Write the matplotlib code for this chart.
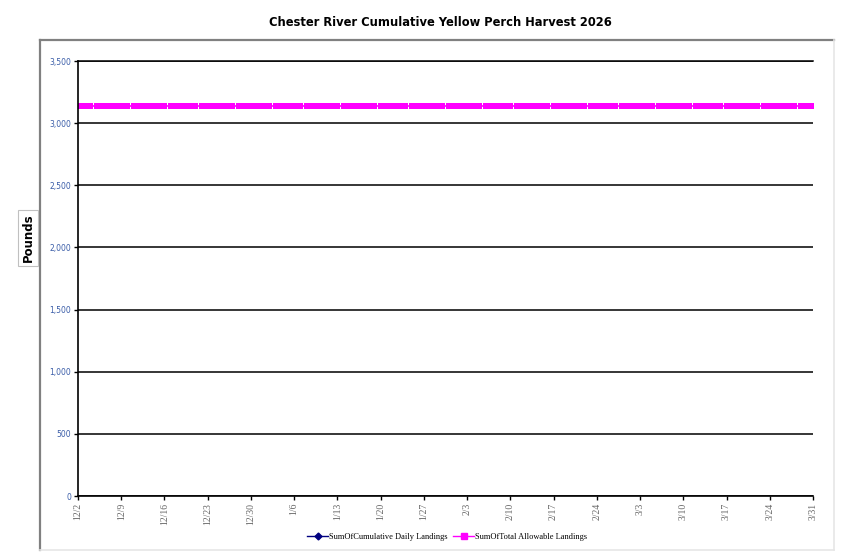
import matplotlib
matplotlib.use("Agg")
import matplotlib.pyplot as plt
from matplotlib.lines import Line2D
import pandas as pd

# ---- data ----
start_date = "2025-12-02"
end_date = "2026-03-31"
dates = pd.date_range(start_date, end_date, freq="D")
total_allowable_value = 3140
total_allowable = [total_allowable_value] * len(dates)
cumulative_dates = []
cumulative_landings = []
tick_dates = pd.date_range(start_date, end_date, freq="7D")
tick_labels = [f"{d.month}/{d.day}" for d in tick_dates]
y_ticks = [0, 500, 1000, 1500, 2000, 2500, 3000, 3500]
y_labels = ["0", "500", "1,000", "1,500", "2,000", "2,500", "3,000", "3,500"]

W, H = 845, 557
fig = plt.figure(figsize=(W / 100, H / 100), dpi=100)
fig.patch.set_facecolor("white")

# outer frame (chart area border)
x0, y0, x1, y1 = 40, 40, 834, 550
fig.add_artist(Line2D([x0 / W, x1 / W], [1 - y0 / H, 1 - y0 / H], color="#808080", lw=1.6, transform=fig.transFigure))
fig.add_artist(Line2D([x0 / W, x0 / W], [1 - y0 / H, 1 - y1 / H], color="#808080", lw=1.6, transform=fig.transFigure))
fig.add_artist(Line2D([x1 / W, x1 / W], [1 - y0 / H, 1 - y1 / H], color="#e6e6e6", lw=1.2, transform=fig.transFigure))
fig.add_artist(Line2D([x0 / W, x1 / W], [1 - y1 / H, 1 - y1 / H], color="#e6e6e6", lw=1.2, transform=fig.transFigure))

left, right, top, bottom = 78, 813, 61, 496
ax = fig.add_axes([left / W, 1 - bottom / H, (right - left) / W, (bottom - top) / H])

ax.plot(cumulative_dates, cumulative_landings, color="#000080", marker="D", markersize=4, lw=1)
ax.plot(dates, total_allowable, color="#ff00ff", marker="s", markersize=4.6,
        markeredgewidth=0, lw=1.2)

ax.set_xlim(dates[0], dates[-1])
ax.set_ylim(0, 3500)
ax.set_yticks(y_ticks)
ax.set_yticklabels(y_labels, fontsize=5.5, color="#3a5da8", family="DejaVu Sans")
ax.set_xticks(tick_dates)
ax.set_xticklabels(tick_labels, rotation=90, fontsize=7, color="#666666", family="Liberation Serif")
ax.grid(axis="y", color="black", lw=1.1)
ax.set_axisbelow(True)
ax.axhline(3500, color="black", lw=1.1, clip_on=False, zorder=0.5)
for s in ["top", "right"]:
    ax.spines[s].set_visible(False)
for s in ["left", "bottom"]:
    ax.spines[s].set_linewidth(1.2)
    ax.spines[s].set_color("black")
ax.tick_params(axis="both", direction="out", length=3, width=1, pad=2)

fig.text(440 / W, 1 - 22 / H, "Chester River Cumulative Yellow Perch Harvest 2026",
         ha="center", va="center", fontsize=8.3, fontweight="bold", family="DejaVu Sans")

fig.text(28 / W, 1 - 238 / H, "Pounds", rotation=90, ha="center", va="center",
         fontsize=8.5, fontweight="bold", family="DejaVu Sans",
         bbox=dict(boxstyle="square,pad=0.3", fc="white", ec="#c0c0c0", lw=0.8))

handles = [
    Line2D([], [], color="#000080", marker="D", markersize=3.5, lw=1),
    Line2D([], [], color="#ff00ff", marker="s", markersize=4, lw=1),
]
fig.legend(handles, ["SumOfCumulative Daily Landings", "SumOfTotal Allowable Landings"],
           loc="center", bbox_to_anchor=(447 / W, 1 - 537 / H), ncol=2, frameon=False,
           prop={"family": "Liberation Serif", "size": 6}, handlelength=2.6,
           handletextpad=0.1, columnspacing=0.6)

fig.savefig("out.png", dpi=100)
